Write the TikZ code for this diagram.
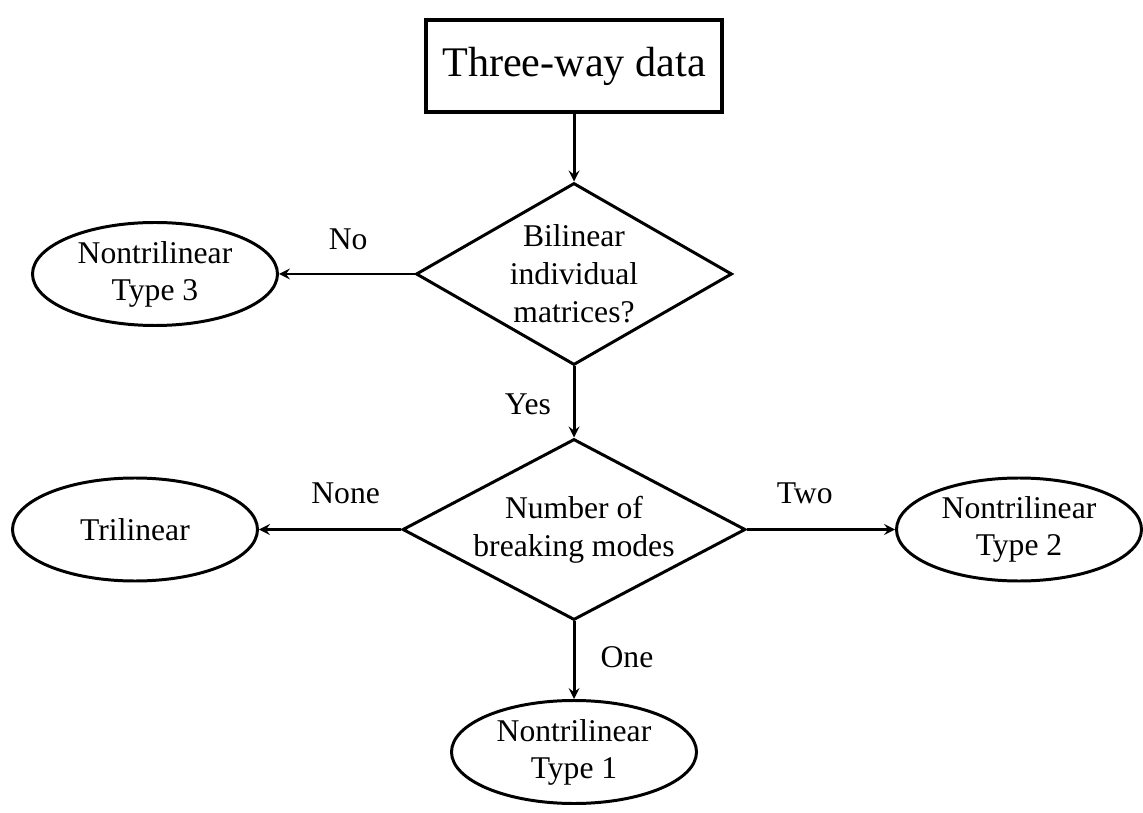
\documentclass[tikz,border=0pt]{standalone}
\usepackage{fontspec}
\setmainfont{Liberation Serif}
\usetikzlibrary{shapes.geometric}
\begin{document}
\begin{tikzpicture}
    \tikzstyle{arrow} = [->,>=stealth, line width=1.7pt]
    \tikzstyle{rec} = [rectangle, draw=black, line width=2pt, align=center,
        minimum height=1.84cm, minimum width=5.92cm, inner sep=0pt,
        font=\fontsize{24}{28}\selectfont]
    \tikzstyle{dec} = [diamond, draw=black, line width=1.7pt, align=center,
        inner sep=0pt, font=\fontsize{18}{21.5}\selectfont]
    \tikzstyle{ell} = [ellipse, draw=black, line width=1.7pt, align=center,
        minimum width=4.9cm, minimum height=2.06cm, inner sep=0pt,
        font=\fontsize{18}{21}\selectfont]
    \tikzstyle{lbl} = [font=\fontsize{18}{21}\selectfont]

    \useasboundingbox (0,0) rectangle (22.86,-16.26);

    \node(data) [rec] at (11.48,-1.32) {Three-way data};

    \node(bilin) [dec, minimum width=6.32cm, minimum height=3.64cm, aspect=1.74]
        at (11.48,-5.48) {Bilinear\\individual\\matrices?};

    \node(type3) [ell] at (3.1,-5.48) {Nontrilinear\\Type 3};

    \node(modes) [dec, minimum width=6.86cm, minimum height=3.62cm, aspect=1.9]
        at (11.48,-10.59) {Number of\\breaking modes};

    \node(tri) [ell] at (2.7,-10.59) {Trilinear};

    \node(type2) [ell] at (20.38,-10.59) {Nontrilinear\\Type 2};

    \node(type1) [ell] at (11.48,-15.04) {Nontrilinear\\Type 1};

    \draw[arrow] (data) -- (bilin);
    \draw[arrow] (bilin) -- node[lbl, pos=0.49, yshift=0.7cm] {No} (type3);
    \draw[arrow] (bilin) -- node[lbl, pos=0.53, xshift=-0.92cm] {Yes} (modes);
    \draw[arrow] (modes) -- node[lbl, pos=0.39, yshift=0.73cm] {None} (tri);
    \draw[arrow] (modes) -- node[lbl, pos=0.39, yshift=0.73cm] {Two} (type2);
    \draw[arrow] (modes) -- node[lbl, pos=0.46, xshift=1.06cm] {One} (type1);
\end{tikzpicture}
\end{document}
